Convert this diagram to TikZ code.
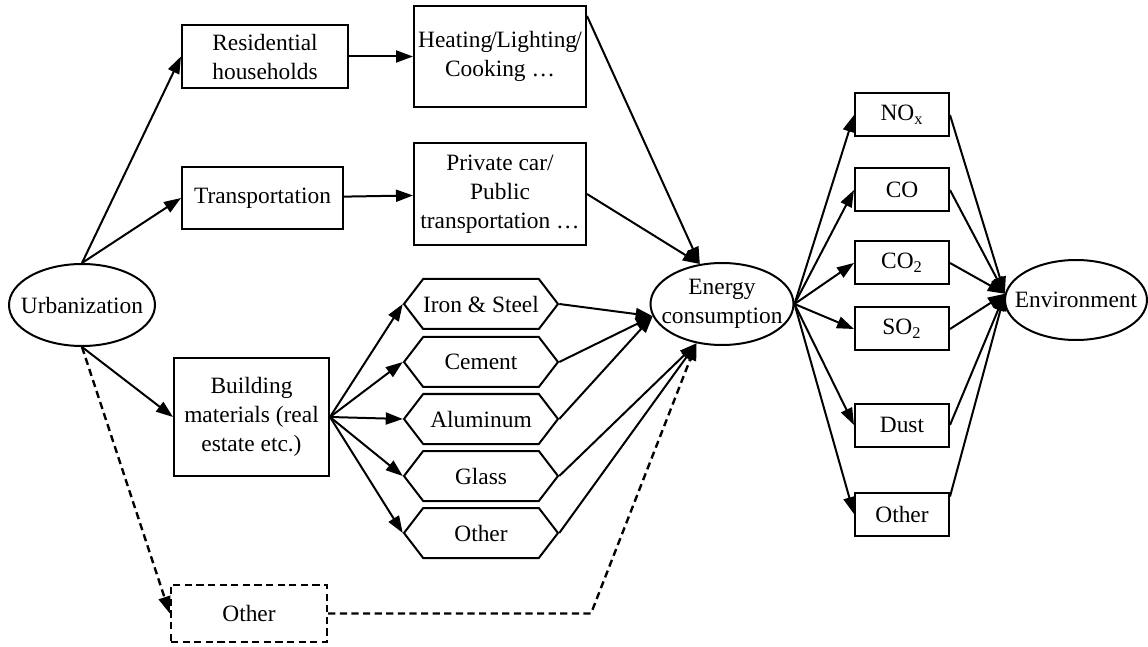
\documentclass[tikz,border=0pt]{standalone}
\usepackage{fontspec}
\setmainfont{Liberation Serif}
\usetikzlibrary{positioning}
\usetikzlibrary{arrows.meta}
\usetikzlibrary{shapes.geometric}
\usetikzlibrary{shapes.symbols}
\tikzset{x=0.5pt, y=-0.5pt,
every node/.style={
font=\fontsize{11.7}{14.5}\selectfont},
box/.style={
draw,
rectangle,
line width=1pt,
inner sep=0pt,
align=center},
oval/.style={
draw,
ellipse,
line width=1pt,
inner xsep=-8pt,
inner ysep=0pt,
align=center},
hexa/.style={
draw,
signal,
signal to=west and east,
signal pointer angle=105,
line width=1pt,
inner sep=0pt,
minimum width=77pt,
minimum height=25pt},
gas/.style={box, minimum width=47pt, minimum height=21.5pt},
dashedge/.style={dash pattern=on 3.6pt off 2.2pt, line width=1.2pt},
every edge/.style={
draw,
-{Triangle[length=8.5pt,width=6pt]},
line width=1pt}}

\begin{document}
\begin{tikzpicture}
\useasboundingbox (0,0) rectangle (1148,647);
% sources
\node[oval, minimum width=73pt, minimum height=41pt] (urb) at (82,305) {Urbanization};
\node[box, minimum width=83pt, minimum height=31.5pt] (res) at (265,56.5) {Residential\\households};
\node[box, minimum width=80.5pt, minimum height=31pt] (trans) at (262.5,198) {Transportation};
\node[box, minimum width=77.5pt, minimum height=59pt] (build) at (251.5,417) {Building\\materials (real\\estate etc.)};
\node[box, dashedge, minimum width=78pt, minimum height=28.5pt] (other1) at (249,613.5) {Other};
\node[box, minimum width=86pt, minimum height=50.5pt] (heat) at (500,56.5) {Heating\kern-0.9pt/\kern-0.2pt Lighting\kern-0.9pt/\\Cooking \ldots};
\node[box, minimum width=86pt, minimum height=51pt] (priv) at (500,194) {Private car/\\Public\\transportation \ldots};
% materials
\node[hexa] (iron) at (481,304) {Iron \& Steel};
\node[hexa] (cement) at (481,362) {Cement};
\node[hexa] (alu) at (481,419) {Aluminum};
\node[hexa] (glass) at (481,476) {Glass};
\node[hexa] (other2) at (481,533) {Other};
\node[oval, minimum width=71.5pt, minimum height=41pt] (energy) at (722,304) {Energy\\consumption};
% emissions
\node[gas] (nox) at (902,115) {NO\textsubscript{x}};
\node[gas] (co) at (902,190) {CO};
\node[gas] (co2) at (902,263) {CO\textsubscript{2}};
\node[gas] (so2) at (902,329) {SO\textsubscript{2}};
\node[gas] (dust) at (902,425) {Dust};
\node[gas] (other3) at (902,514) {Other};
\node[oval, minimum width=71pt, minimum height=40pt] (env) at (1076,300) {Environment};
\coordinate (bend) at (591,613.5);

\draw (urb.north) edge (res.west);
\draw (urb.north) edge (trans.west);
\draw (urb.south) edge (build.west);
\draw (urb.south) edge[dashedge] (other1.west);
\draw (res) edge (heat);
\draw (trans) edge (priv);
\draw (heat.25) edge (energy.119);
\draw (priv.east) edge (energy.119);
\draw (build.east) edge (iron.west);
\draw (build.east) edge (cement.west);
\draw (build.east) edge (alu.west);
\draw (build.east) edge (glass.west);
\draw (build.east) edge (other2.west);
\draw (iron.east) edge (energy.190);
\draw (cement.east) edge (energy.190);
\draw (alu.east) edge (energy.190);
\draw (glass.east) edge (energy.237);
\draw (other2.east) edge (energy.237);
\draw[dashedge, -{Triangle[length=8.5pt,width=6pt]}] (other1.east) -- (bend) -- (energy.237);
\foreach \g in {nox,co,co2,so2,dust,other3}
  \draw (energy.east) edge (\g.west);
\foreach \g in {nox,co,co2,so2,dust}
  \draw (\g.east) edge (env.175);
\draw (other3.20) edge (env.175);
\end{tikzpicture}
\end{document}
